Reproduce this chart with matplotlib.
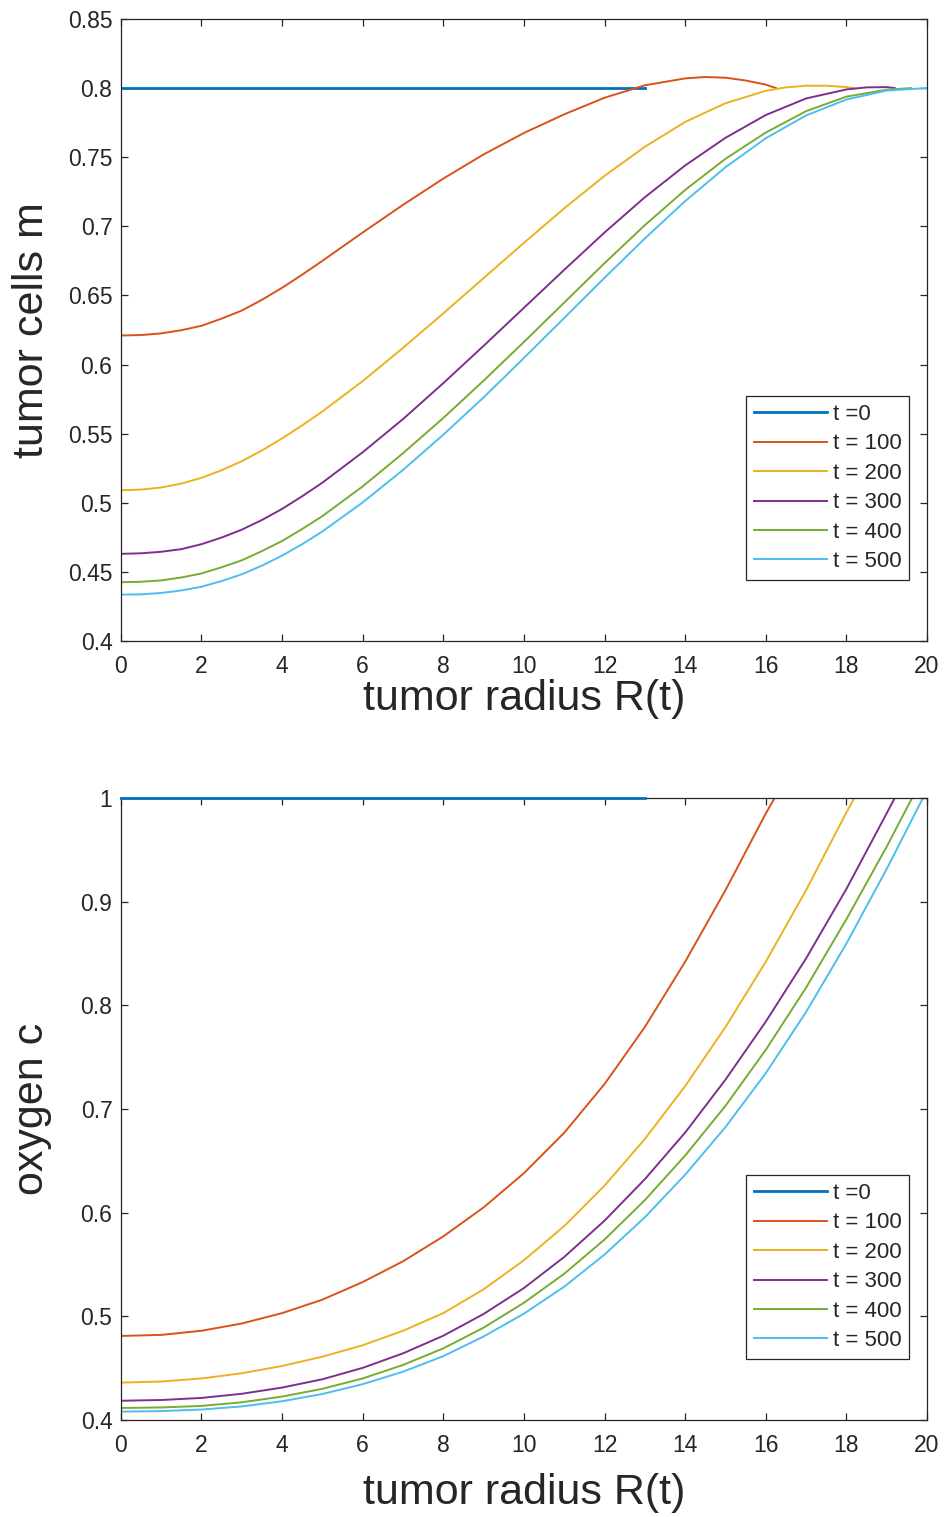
import numpy as np
import matplotlib
matplotlib.use("Agg")
import matplotlib.pyplot as plt
from matplotlib.ticker import FuncFormatter

plt.rcParams['font.family'] = ['Liberation Sans', 'DejaVu Sans']

labels = ['t =0', 't = 100', 't = 200', 't = 300', 't = 400', 't = 500']
colors = ['#0072BD', '#D95319', '#EDB120', '#7E2F8E', '#77AC30', '#4DBEEE']

# tumor cells m over radius, one curve per time
m_r0 = [0, 13]
m_v0 = [0.8, 0.8]
m_r100 = [0, 0.5, 1, 1.5, 2, 2.5, 3, 3.5, 4, 4.5, 5, 6, 7, 8, 9, 10, 11, 12, 13, 14,
          14.5, 15, 15.5, 16, 16.25]
m_v100 = [0.621, 0.6213, 0.6225, 0.6248, 0.628, 0.6332, 0.639, 0.6468, 0.6555, 0.665,
          0.675, 0.6955, 0.7155, 0.7345, 0.752, 0.7675, 0.781, 0.793, 0.802, 0.807,
          0.808, 0.8075, 0.8055, 0.8025, 0.800]
m_r200 = [0, 0.5, 1, 1.5, 2, 2.5, 3, 3.5, 4, 4.5, 5, 6, 7, 8, 9, 10, 11, 12, 13, 14,
          15, 16, 16.5, 17, 17.5, 18, 18.2]
m_v200 = [0.509, 0.5095, 0.511, 0.5138, 0.518, 0.5235, 0.530, 0.5378, 0.5465, 0.556,
          0.566, 0.588, 0.612, 0.637, 0.6625, 0.688, 0.713, 0.7365, 0.7575, 0.7755,
          0.789, 0.798, 0.8005, 0.8017, 0.8017, 0.8007, 0.800]
m_r300 = [0, 0.5, 1, 1.5, 2, 2.5, 3, 3.5, 4, 4.5, 5, 6, 7, 8, 9, 10, 11, 12, 13, 14,
          15, 16, 17, 18, 18.5, 19, 19.2]
m_v300 = [0.463, 0.4634, 0.4645, 0.4664, 0.470, 0.4748, 0.4805, 0.4875, 0.4955, 0.5047,
          0.5145, 0.5365, 0.5605, 0.5865, 0.6135, 0.641, 0.6685, 0.6955, 0.721, 0.744,
          0.764, 0.7805, 0.7925, 0.799, 0.8005, 0.8007, 0.800]
m_r400 = [0, 0.5, 1, 1.5, 2, 2.5, 3, 3.5, 4, 4.5, 5, 6, 7, 8, 9, 10, 11, 12, 13, 14,
          15, 16, 17, 18, 19, 19.6]
m_v400 = [0.4425, 0.4428, 0.4438, 0.4459, 0.4488, 0.4533, 0.4583, 0.465, 0.4723, 0.481,
          0.4903, 0.5118, 0.5358, 0.5613, 0.5883, 0.6163, 0.6448, 0.6733, 0.7008, 0.7263,
          0.7488, 0.7678, 0.7833, 0.7938, 0.7988, 0.800]
m_r500 = [0, 0.5, 1, 1.5, 2, 2.5, 3, 3.5, 4, 4.5, 5, 6, 7, 8, 9, 10, 11, 12, 13, 14,
          15, 16, 17, 18, 19, 20]
m_v500 = [0.4335, 0.4337, 0.4347, 0.4365, 0.4392, 0.4433, 0.4482, 0.4545, 0.4617, 0.470,
          0.4792, 0.5002, 0.5237, 0.5492, 0.5762, 0.6047, 0.6337, 0.6627, 0.6912, 0.7182,
          0.7427, 0.7637, 0.7802, 0.7917, 0.7982, 0.800]

# oxygen c over radius
c_r0 = [0, 13]
c_v0 = [1.0, 1.0]
c_r100 = [0, 1, 2, 3, 4, 5, 6, 7, 8, 9, 10, 11, 12, 13, 14, 15, 16, 16.22]
c_v100 = [0.481, 0.482, 0.486, 0.493, 0.503, 0.516, 0.533, 0.553, 0.577, 0.605, 0.638,
          0.677, 0.724, 0.779, 0.842, 0.911, 0.985, 1.0]
c_r200 = [0, 1, 2, 3, 4, 5, 6, 7, 8, 9, 10, 11, 12, 13, 14, 15, 16, 17, 18, 18.2]
c_v200 = [0.436, 0.437, 0.440, 0.445, 0.452, 0.461, 0.472, 0.486, 0.503, 0.526, 0.554,
          0.587, 0.626, 0.671, 0.722, 0.779, 0.842, 0.911, 0.986, 1.0]
c_r300 = [0, 1, 2, 3, 4, 5, 6, 7, 8, 9, 10, 11, 12, 13, 14, 15, 16, 17, 18, 19, 19.2]
c_v300 = [0.4185, 0.4192, 0.4212, 0.4252, 0.4312, 0.4392, 0.4502, 0.4642, 0.4812, 0.5022,
          0.5272, 0.5572, 0.5922, 0.6322, 0.6772, 0.7282, 0.7842, 0.8452, 0.9122, 0.9852,
          1.0]
c_r400 = [0, 1, 2, 3, 4, 5, 6, 7, 8, 9, 10, 11, 12, 13, 14, 15, 16, 17, 18, 19, 19.63]
c_v400 = [0.4115, 0.412, 0.4135, 0.417, 0.4225, 0.430, 0.440, 0.453, 0.469, 0.489, 0.513,
          0.541, 0.574, 0.612, 0.655, 0.703, 0.757, 0.817, 0.883, 0.953, 1.0]
c_r500 = [0, 1, 2, 3, 4, 5, 6, 7, 8, 9, 10, 11, 12, 13, 14, 15, 16, 17, 18, 19, 19.9]
c_v500 = [0.408, 0.4085, 0.410, 0.413, 0.418, 0.425, 0.4345, 0.4465, 0.4615, 0.4805,
          0.5025, 0.5285, 0.5595, 0.5955, 0.6365, 0.6825, 0.7345, 0.7935, 0.8595, 0.9315,
          1.0]

m_series = [(m_r0, m_v0), (m_r100, m_v100), (m_r200, m_v200),
            (m_r300, m_v300), (m_r400, m_v400), (m_r500, m_v500)]
c_series = [(c_r0, c_v0), (c_r100, c_v100), (c_r200, c_v200),
            (c_r300, c_v300), (c_r400, c_v400), (c_r500, c_v500)]

dark = '#262626'
fmt = FuncFormatter(lambda v, pos: '%g' % round(v, 4))


def style_axes(ax, ylim, yticks, ylabel, xlab_y):
    ax.set_xlim(0, 20)
    ax.set_ylim(*ylim)
    ax.set_xticks(np.arange(0, 21, 2))
    ax.set_yticks(yticks)
    ax.yaxis.set_major_formatter(fmt)
    ax.tick_params(direction='in', length=5, width=0.9, top=True, right=True,
                   labelsize=16.5, colors=dark)
    ax.tick_params(axis='x', pad=10)
    ax.tick_params(axis='y', pad=6)
    for s in ax.spines.values():
        s.set_color(dark)
        s.set_linewidth(0.9)
    ax.set_xlabel('tumor radius R(t)', fontsize=31, color=dark)
    ax.xaxis.set_label_coords(0.5, xlab_y)
    ax.set_ylabel(ylabel, fontsize=31, color=dark)
    ax.yaxis.set_label_coords(-0.086, 0.5)
    leg = ax.legend(loc='lower right', bbox_to_anchor=(0.978, 0.098), fontsize=16,
                    frameon=True, fancybox=False, framealpha=1, edgecolor=dark,
                    handlelength=3.3, handletextpad=0.25, labelspacing=0.38,
                    borderpad=0.35, borderaxespad=0)
    leg.get_frame().set_linewidth(0.9)
    for t in leg.get_texts():
        t.set_color(dark)


fig = plt.figure(figsize=(9.44, 15.17), dpi=100)
ax1 = fig.add_axes([0.128, 0.5775, 0.854, 0.410])
ax2 = fig.add_axes([0.128, 0.064, 0.854, 0.410])

for i, (r, v) in enumerate(m_series):
    ax1.plot(r, v, color=colors[i], lw=2.0 if i == 0 else 1.4, label=labels[i])
for i, (r, v) in enumerate(c_series):
    # the t=0 line sits on the top edge, keep it drawn over the spine
    ax2.plot(r, v, color=colors[i], lw=2.0 if i == 0 else 1.4, label=labels[i],
             clip_on=(i != 0), zorder=3 if i == 0 else 2)

style_axes(ax1, (0.4, 0.85), np.arange(0.4, 0.851, 0.05), 'tumor cells m', -0.062)
style_axes(ax2, (0.4, 1.0), np.arange(0.4, 1.001, 0.1), 'oxygen c', -0.086)

fig.savefig('out.png', dpi=100, facecolor='white')
